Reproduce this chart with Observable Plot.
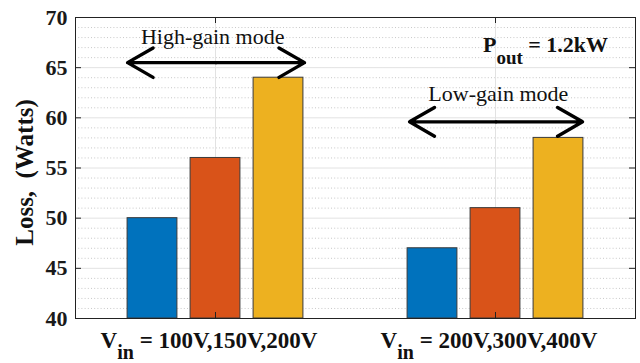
<!DOCTYPE html>
<html>
<head>
<meta charset="utf-8">
<script src="https://cdn.jsdelivr.net/npm/d3@7"></script>
<script src="https://cdn.jsdelivr.net/npm/@observablehq/plot@0.6"></script>
<style>
  html, body { margin: 0; padding: 0; background: #fff; }
  #chart { width: 640px; height: 363px; }
</style>
</head>
<body>
<div id="chart"></div>
<script>
// ---- data ----
const groups = [1, 2];
const groupLabels = ["100V,150V,200V", "200V,300V,400V"];
const seriesNames = ["Vin low", "Vin mid", "Vin high"];
const seriesColors = ["#0072BD", "#D95319", "#EDB120"];
const lossLow = [50, 47];
const lossMid = [56, 51];
const lossHigh = [64, 58];
const yTicksMajor = [40, 45, 50, 55, 60, 65, 70];
const yTicksMinor = d3.range(40, 71, 1).filter(v => v % 5 !== 0);
const modeLabels = ["High-gain mode", "Low-gain mode"];
const modeLabelX = [0.99, 2.01];
const modeLabelY = [68.1, 62.35];
const modeArrowX1 = [0.686, 1.693];
const modeArrowX2 = [1.318, 2.311];
const modeArrowY = [65.5, 59.6];

// ---- build tables ----
const seriesValues = [lossLow, lossMid, lossHigh];
const offsets = [-0.225, 0, 0.225];
const barW = 0.178;
const bars = [];
groups.forEach((g, gi) => {
  seriesValues.forEach((vals, si) => {
    bars.push({g, series: seriesNames[si], value: vals[gi], x1: g + offsets[si] - barW / 2, x2: g + offsets[si] + barW / 2});
  });
});
const arrows = [];
modeLabels.forEach((m, i) => {
  const mid = (modeArrowX1[i] + modeArrowX2[i]) / 2;
  arrows.push({x1: mid, x2: modeArrowX1[i], y: modeArrowY[i]});
  arrows.push({x1: mid, x2: modeArrowX2[i], y: modeArrowY[i]});
});
const modes = modeLabels.map((m, i) => ({text: m, x: modeLabelX[i], y: modeLabelY[i]}));

const serif = "Liberation Serif, Times New Roman, serif";
const W = 640, H = 363, mL = 75, mR = 5, mT = 17, mB = 45;
const innerW = W - mL - mR, innerH = H - mT - mB, tick = 6;

const plot = Plot.plot({
  width: W,
  height: H,
  marginLeft: mL,
  marginRight: mR,
  marginTop: mT,
  marginBottom: mB,
  style: {fontFamily: serif, background: "#fff"},
  x: {domain: [0.5, 2.5], axis: null},
  y: {domain: [40, 70], axis: null},
  color: {domain: seriesNames, range: seriesColors},
  marks: [
    Plot.ruleY(yTicksMinor, {stroke: "#c8c8c8", strokeDasharray: "1,2.2", strokeWidth: 1}),
    Plot.ruleY(yTicksMajor, {stroke: "#e2e2e2", strokeWidth: 1}),
    Plot.ruleX(groups, {stroke: "#e2e2e2", strokeWidth: 1}),
    Plot.rectY(bars, {x1: "x1", x2: "x2", y1: 40, y2: "value", fill: "series", stroke: "#3a3a3a", strokeWidth: 1}),
    Plot.axisY(yTicksMajor, {anchor: "left", tickSize: 0, tickPadding: 8, fontSize: 22, fontWeight: "bold", fill: "#1a1a1a", label: null, tickFormat: d => d}),
    Plot.tickY(yTicksMajor, {insetRight: innerW - tick, stroke: "#222"}),
    Plot.tickY(yTicksMajor, {insetLeft: innerW - tick, stroke: "#222"}),
    Plot.tickX(groups, {insetTop: innerH - tick, stroke: "#222"}),
    Plot.tickX(groups, {insetBottom: innerH - tick, stroke: "#222"}),
    Plot.frame({stroke: "#222", strokeWidth: 1}),
    Plot.arrow(arrows, {x1: "x1", x2: "x2", y1: "y", y2: "y", stroke: "black", strokeWidth: 3.4, headLength: 13}),
    Plot.text(modes, {x: "x", y: "y", text: "text", fontSize: 22, fill: "#111"})
  ]
});

document.getElementById("chart").appendChild(plot);

const svg = d3.select(plot);

// ---- subscripted labels as real text ----
const xs = plot.scale("x");
const ys = plot.scale("y");
groups.forEach((g, i) => {
  const t = svg.append("text")
    .attr("x", xs.apply(g) - 6)
    .attr("y", 348)
    .attr("text-anchor", "middle")
    .style("font-family", serif)
    .attr("font-weight", "bold")
    .attr("font-size", 23)
    .attr("fill", "#111");
  t.append("tspan").text("V");
  t.append("tspan").attr("dy", 11).attr("font-size", 20).text("in");
  t.append("tspan").attr("dy", -11).text("\u00a0= " + groupLabels[i]);
});

const p = svg.append("text")
  .attr("x", xs.apply(1.957))
  .attr("y", ys.apply(66.5))
  .attr("text-anchor", "start")
  .style("font-family", serif)
  .attr("font-weight", "bold")
  .attr("font-size", 22)
  .attr("fill", "#111");
p.append("tspan").text("P");
p.append("tspan").attr("dy", 12).attr("font-size", 19).text("out");
p.append("tspan").attr("dy", -12).text("\u00a0= 1.2kW");

svg.append("text")
  .attr("transform", `translate(33,${(ys.apply(40) + ys.apply(70)) / 2 + 5}) rotate(-90)`)
  .attr("text-anchor", "middle")
  .style("font-family", serif)
  .attr("font-weight", "bold")
  .attr("font-size", 25)
  .attr("fill", "#111")
  .text("Loss,\u00a0 (Watts)");
</script>
</body>
</html>
